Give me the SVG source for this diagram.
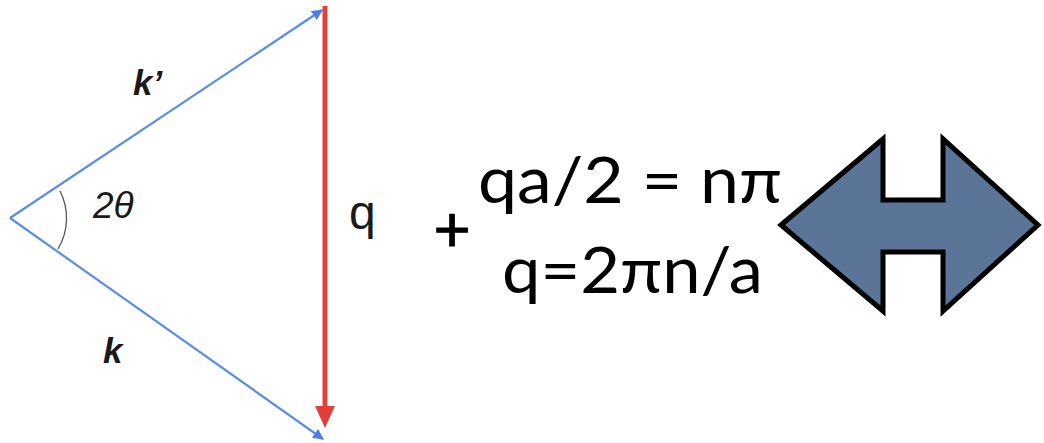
<svg xmlns="http://www.w3.org/2000/svg" width="1044" height="443" viewBox="0 0 1044 443">
  <style>
    .blue { stroke: #5a8de6; stroke-width: 2.2; fill: none; }
    .lbl { font-family: "Liberation Sans", Arial, sans-serif; fill: #1a1a1a; }
    .bi { font-weight: bold; font-style: italic; font-size: 35px; }
    .eq { font-family: Lato, "Open Sans", sans-serif; font-size: 64px; fill: #000; }
  </style>
  <defs>
    <marker id="blueHead" viewBox="0 0 10 10" refX="9" refY="5" markerWidth="5" markerHeight="5" orient="auto" markerUnits="strokeWidth">
      <path d="M0,0 L10,5 L0,10 z" fill="#4a7fe6"/>
    </marker>
  </defs>
  <rect width="1044" height="443" fill="#ffffff"/>

  <g id="connectors">
    <line class="blue" x1="10" y1="218" x2="322" y2="10" marker-end="url(#blueHead)"/>
    <line class="blue" x1="10" y1="218" x2="323" y2="439" marker-end="url(#blueHead)"/>
    <line x1="325" y1="6" x2="325" y2="410" stroke="#e0403a" stroke-width="5"/>
    <path d="M315,406 L335,406 L325,428 z" fill="#e0403a"/>
    <path d="M60,191 A60,60 0 0 1 58,249" fill="none" stroke="#555" stroke-width="1.3"/>
  </g>

  <g id="labels">
    <text class="lbl bi" x="133" y="95">k’</text>
    <text class="lbl" x="93" y="218" font-size="37" font-style="italic">2θ</text>
    <text class="lbl bi" x="103" y="363">k</text>
    <text class="lbl" x="349" y="229" font-size="48">q</text>
  </g>

  <g id="equations">
    <text class="eq" x="452" y="252" font-size="80" text-anchor="middle" stroke="#000" stroke-width="1">+</text>
    <text class="eq" x="478" y="203" textLength="304" lengthAdjust="spacingAndGlyphs">qa/2 = nπ</text>
    <text class="eq" x="502" y="293" textLength="261" lengthAdjust="spacingAndGlyphs">q=2πn/a</text>
  </g>

  <g id="double-arrow">
    <polygon points="781,225 883,139 883,200 943,200 943,139 1038,225 943,311 943,252 883,252 883,311" fill="#5a7597" stroke="#000" stroke-width="5" stroke-linejoin="miter"/>
  </g>
</svg>
